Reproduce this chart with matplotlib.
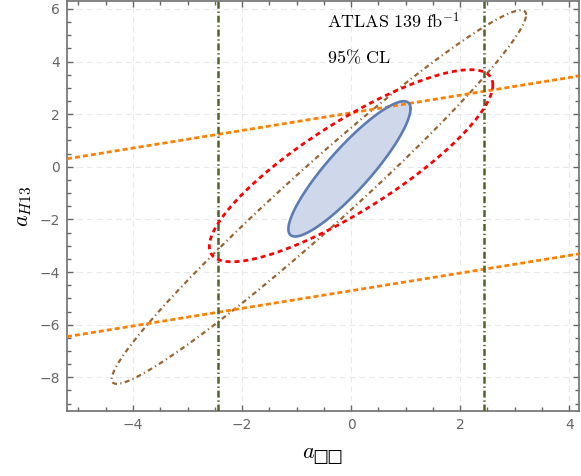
#!/usr/bin/env python3
# -*- coding: utf-8 -*-

import numpy as np
import matplotlib
matplotlib.use('Agg')
import matplotlib.pyplot as plt

# ellipses: (center x, center y, sigma x, sigma y, correlation)
blue_ellipse = (-0.03, -0.08, 1.12, 2.57, 0.89)
red_ellipse = (0.0, 0.04, 2.6, 3.65, 0.84)
brown_ellipse = (-0.59, -1.15, 3.8, 7.1, 0.975)

# orange band: y = slope * x + intercept
orange_slope = 0.335
orange_intercepts = [2.05, -4.71]

# green vertical bounds on x
green_bounds = [-2.44, 2.44]

x_ticks = [-4, -2, 0, 2, 4]
y_ticks = [-8, -6, -4, -2, 0, 2, 4, 6]


def ellipse_points(cx, cy, sx, sy, rho, n=400):
    t = np.linspace(0, 2 * np.pi, n)
    cov = np.array([[sx ** 2, rho * sx * sy], [rho * sx * sy, sy ** 2]])
    L = np.linalg.cholesky(cov)
    pts = L @ np.vstack([np.cos(t), np.sin(t)])
    return pts[0] + cx, pts[1] + cy


plt.rcParams['mathtext.fontset'] = 'cm'
plt.rcParams['lines.scale_dashes'] = False

fig = plt.figure(figsize=(5.81, 4.76), dpi=100)
ax = fig.add_axes([0.1153, 0.1366, 0.8813, 0.8613])

xlim = (-5.21, 4.18)
ylim = (-9.28, 6.3)

# blue filled region
bx, by = ellipse_points(*blue_ellipse)
ax.fill(bx, by, color='#cfd8ea', zorder=2)
ax.plot(bx, by, color='#5b7db3', lw=1.9, zorder=5)

# red dashed ellipse
rx, ry = ellipse_points(*red_ellipse)
ax.plot(rx, ry, color='#ff0000', lw=2.0, dashes=(3.6, 2.8), zorder=4)

# brown dash-dot ellipse
wx, wy = ellipse_points(*brown_ellipse)
ax.plot(wx, wy, color='#996633', lw=1.6, dashes=(3.6, 2.4, 0.9, 2.4), zorder=3)

# orange band
xs = np.array(xlim)
for b in orange_intercepts:
    ax.plot(xs, orange_slope * xs + b, color='#ff8000', lw=2.0,
            dashes=(3.6, 2.2), zorder=3)

# green bounds
for g in green_bounds:
    ax.axvline(g, color='#50632a', lw=1.8, dashes=(5.0, 2.0, 1.0, 2.0),
               zorder=3)

ax.set_xlim(xlim)
ax.set_ylim(ylim)
ax.set_xticks(x_ticks)
ax.set_yticks(y_ticks)
ax.set_xticklabels(['\u2212%d' % -v if v < 0 else '%d' % v for v in x_ticks])
ax.set_yticklabels(['\u2212%d' % -v if v < 0 else '%d' % v for v in y_ticks])
ax.xaxis.set_minor_locator(matplotlib.ticker.MultipleLocator(0.5))
ax.yaxis.set_minor_locator(matplotlib.ticker.MultipleLocator(0.5))
ax.tick_params(which='both', direction='in', top=True, right=True,
               color='#666666', width=1.0, labelsize=10,
               labelcolor='#666666')
ax.tick_params(which='major', length=4.3, pad=5)
ax.tick_params(which='minor', length=2.9)
for s in ax.spines.values():
    s.set_color('#6e6e6e')
    s.set_linewidth(1.2)

ax.grid(True, which='major', color='#e8e8e8', lw=0.8, dashes=(4, 3))
ax.set_axisbelow(True)

ax.set_xlabel('$a_{\u25a1\u25a1}$', fontsize=16, labelpad=10)
ax.set_ylabel(r'$a_{H13}$', fontsize=16, labelpad=4)

ax.text(0.508, 0.934, r'$\mathrm{ATLAS\ 139\ fb}^{-1}$', transform=ax.transAxes,
        fontsize=13, va='baseline', ha='left')
ax.text(0.508, 0.849, r'$\mathrm{95\%\ CL}$', transform=ax.transAxes,
        fontsize=13, va='baseline', ha='left')

plt.savefig('out.png', dpi=100)
